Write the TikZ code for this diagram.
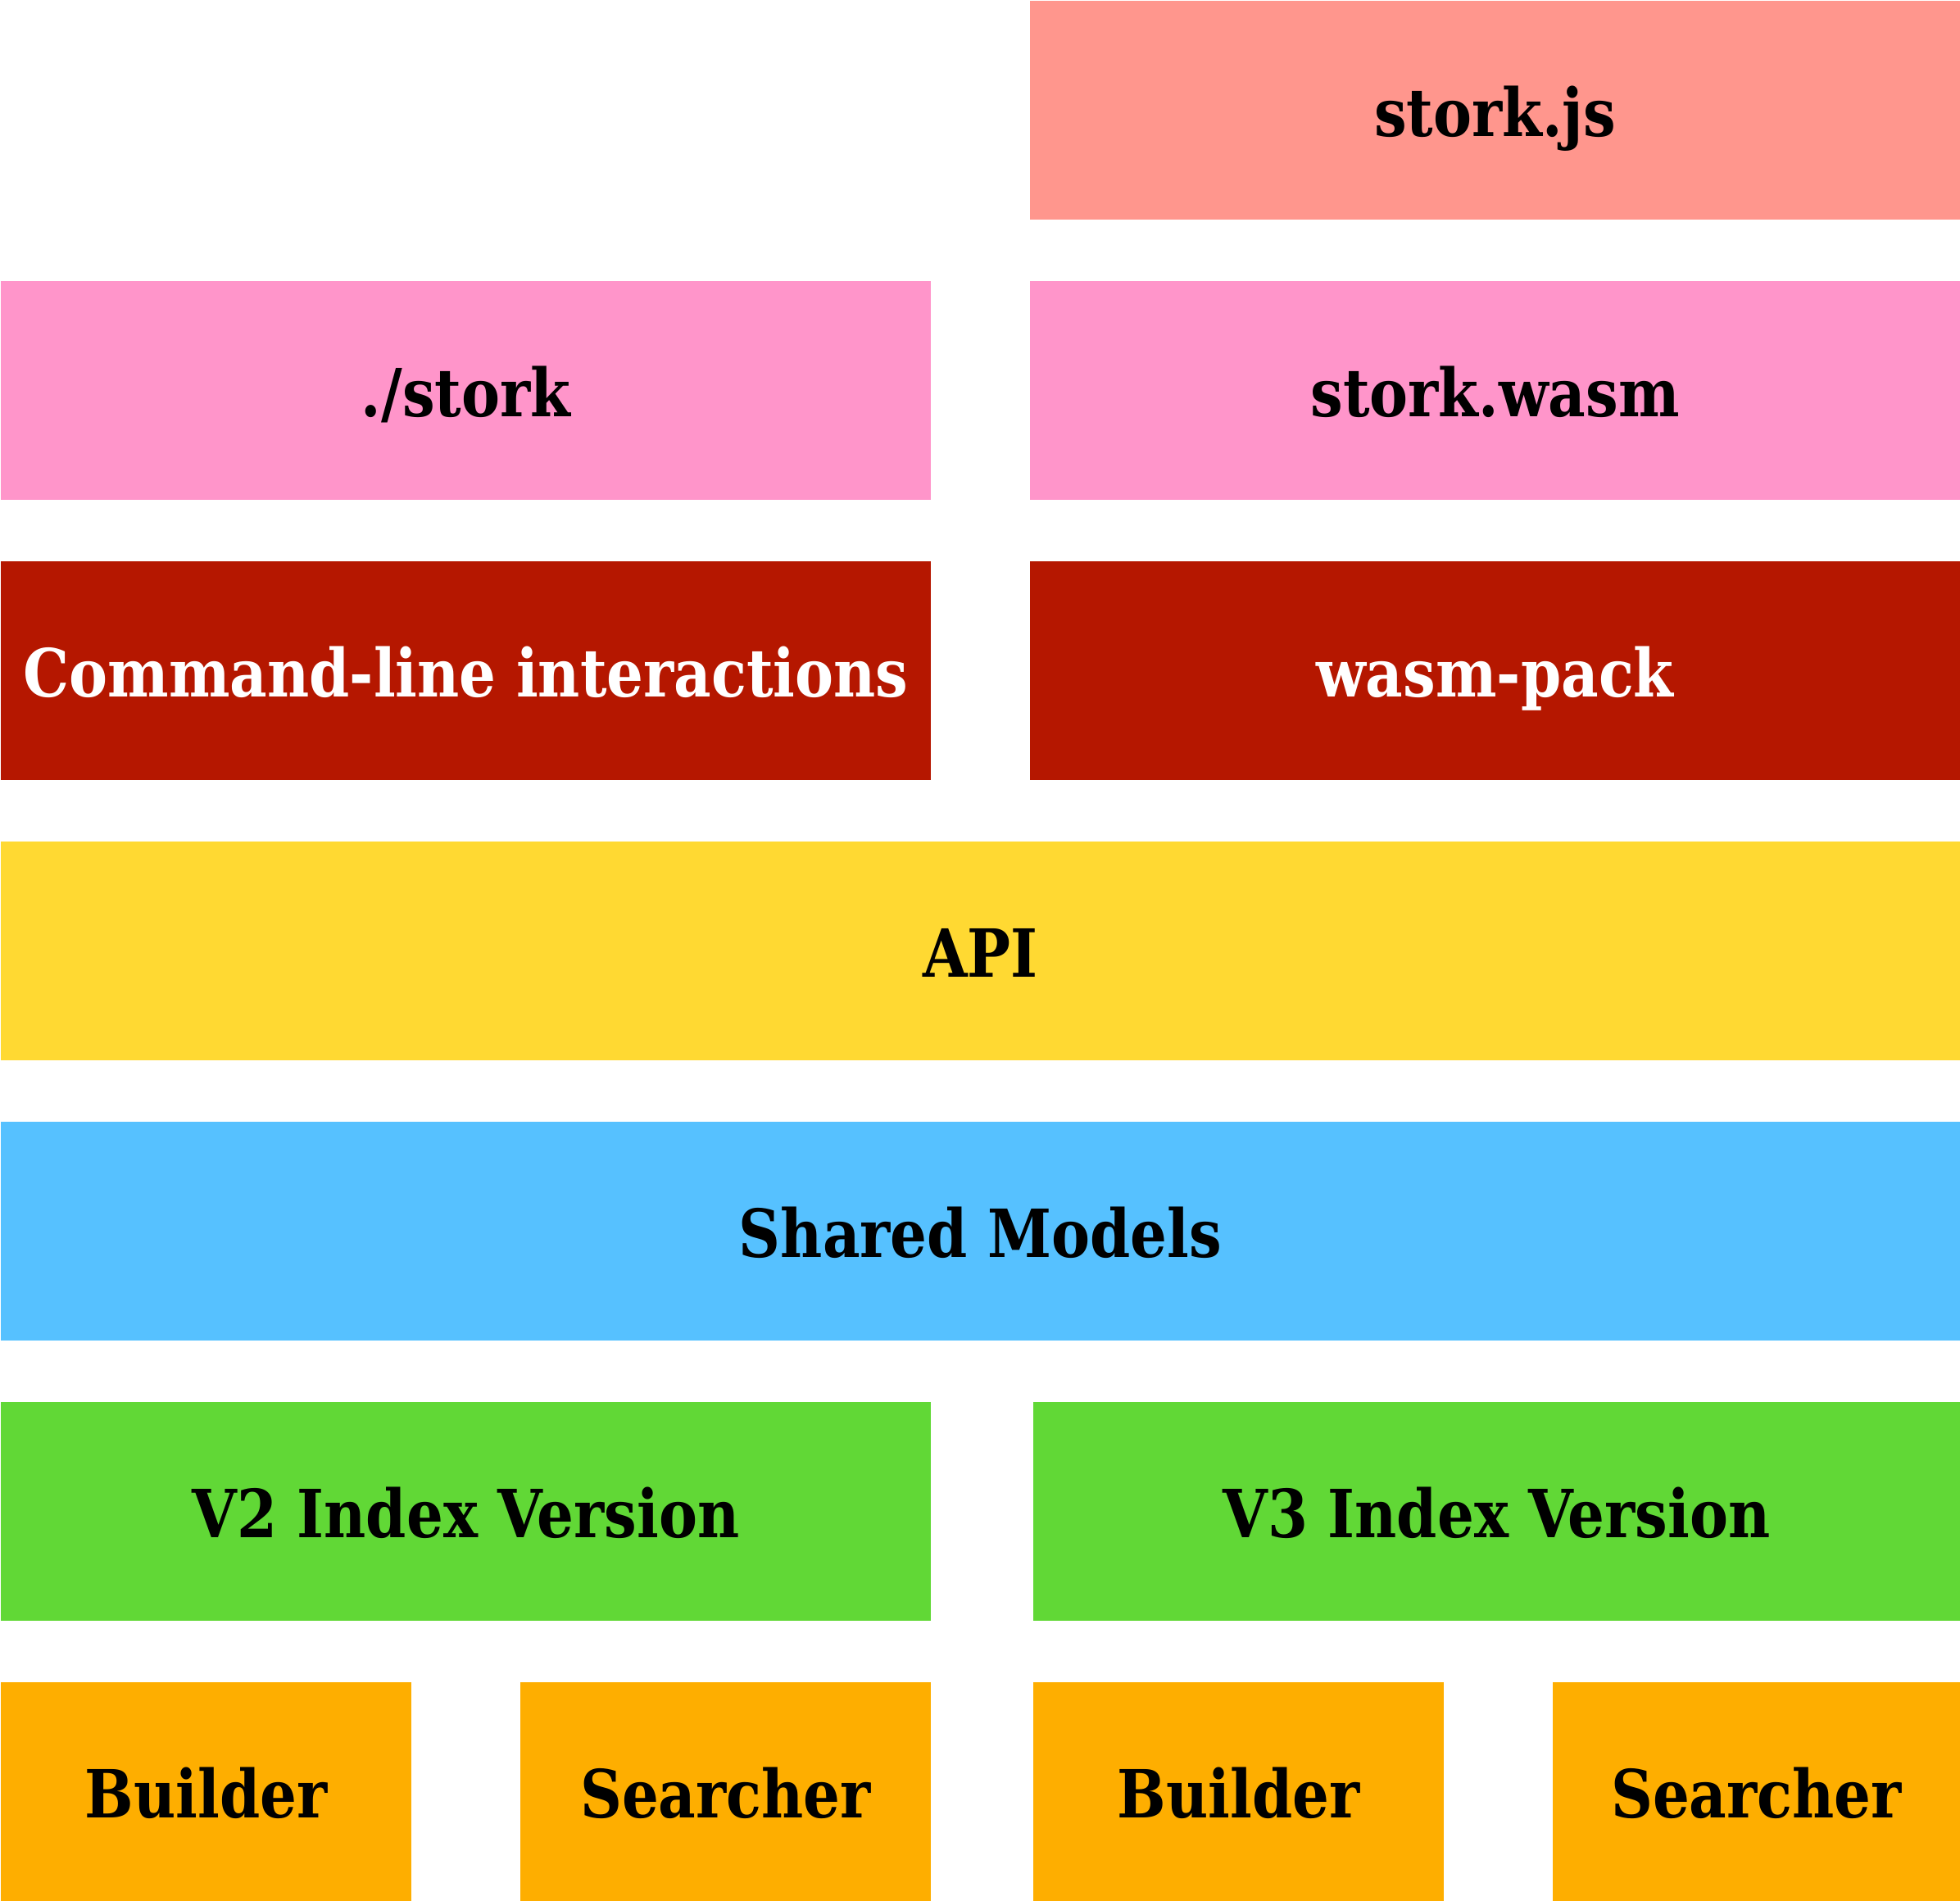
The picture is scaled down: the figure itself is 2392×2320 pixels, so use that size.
\documentclass[tikz,border=0pt]{standalone}
\usepackage{fontspec}
\setmainfont{DejaVu Serif}[FakeStretch=0.87]
\definecolor{cjs}{HTML}{FF968D}
\definecolor{cpink}{HTML}{FF95CA}
\definecolor{cred}{HTML}{B51700}
\definecolor{cyel}{HTML}{FFD932}
\definecolor{cblue}{HTML}{56C1FF}
\definecolor{cgreen}{HTML}{61D836}
\definecolor{corange}{HTML}{FEAE00}
\begin{document}
\begin{tikzpicture}[x=0.25pt,y=-0.25pt,
  blk/.style={draw=none, inner sep=0pt, outer sep=0pt, anchor=north west,
    minimum height=66.75pt, text height=16pt, text depth=0pt,
    font=\bfseries\fontsize{20.25}{24}\selectfont, text=black},
  half/.style={minimum width=283.75pt},
  full/.style={minimum width=597.75pt},
  quarter/.style={minimum width=125.25pt}]
\useasboundingbox (0,0) rectangle (2392,2320);
\node[blk, half, fill=cjs] (js) at (1257,1) {stork.js};
\node[blk, half, fill=cpink] (stork) at (1,343) {./stork};
\node[blk, half, fill=cpink] (wasm) at (1257,343) {stork.wasm};
\node[blk, half, fill=cred, text=white] (cli) at (1,685) {Command-line interactions};
\node[blk, half, fill=cred, text=white] (wpack) at (1257,685) {wasm-pack};
\node[blk, full, fill=cyel] (api) at (1,1027) {API};
\node[blk, full, fill=cblue] (shared) at (1,1369) {Shared Models};
\node[blk, half, fill=cgreen] (v2) at (1,1711) {V2 Index Version};
\node[blk, minimum width=282.75pt, fill=cgreen] (v3) at (1261,1711) {V3 Index Version};
\node[blk, quarter, fill=corange] (b2) at (1,2053) {Builder};
\node[blk, quarter, fill=corange] (s2) at (635,2053) {Searcher};
\node[blk, quarter, fill=corange] (b3) at (1261,2053) {Builder};
\node[blk, minimum width=124.25pt, fill=corange] (s3) at (1895,2053) {Searcher};
\end{tikzpicture}
\end{document}
